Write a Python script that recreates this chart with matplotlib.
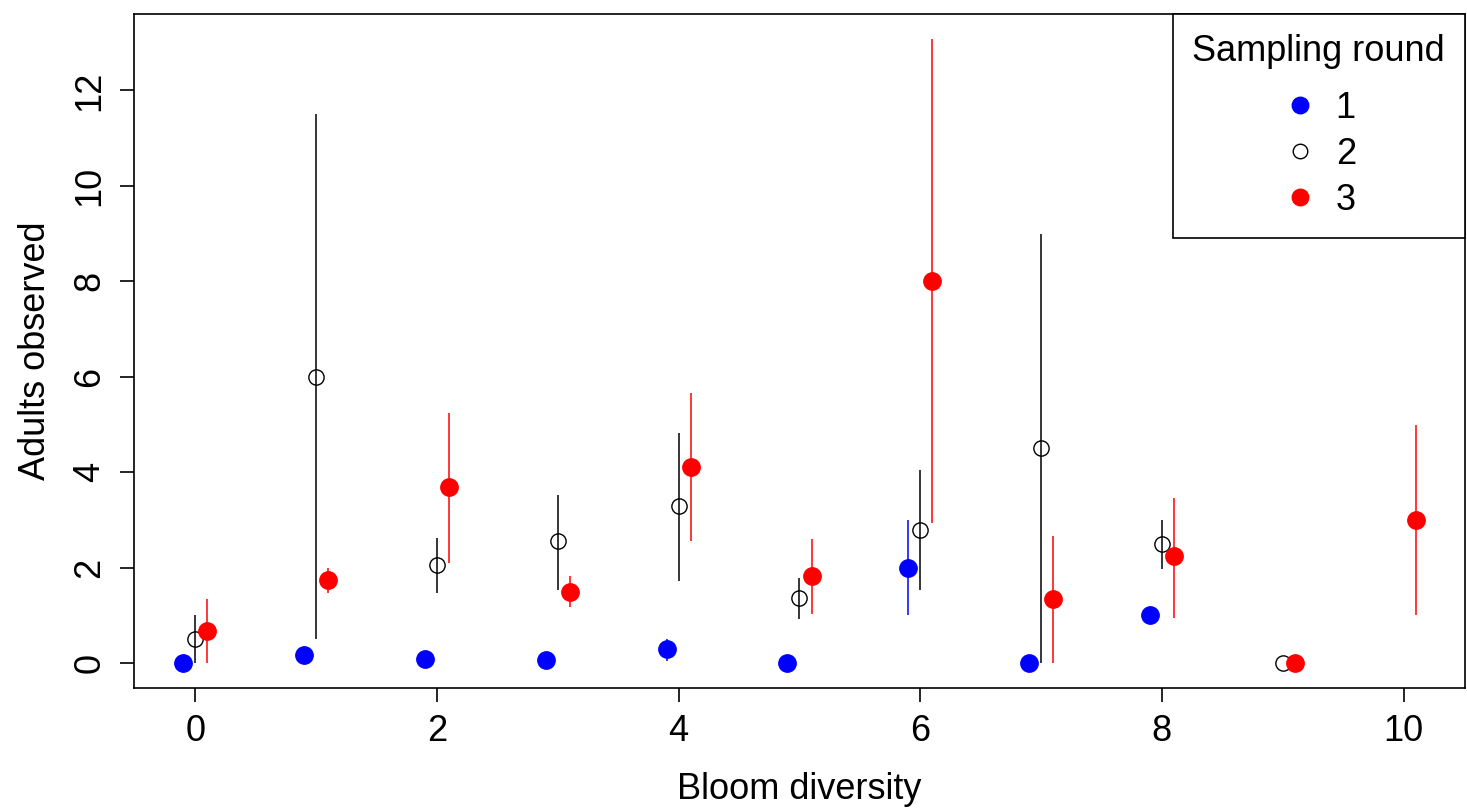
import matplotlib
matplotlib.use("Agg")
import matplotlib.pyplot as plt
import numpy as np

plt.rcParams['font.family'] = ['Liberation Sans', 'DejaVu Sans']

# bloom diversity levels and means/intervals per sampling round
diversity = [0, 1, 2, 3, 4, 5, 6, 7, 8, 9, 10]

r1_x = [0, 1, 2, 3, 4, 5, 6, 7, 8]
r1_mean = [0.0, 0.17, 0.08, 0.07, 0.3, 0.0, 2.0, 0.0, 1.0]
r1_lo = [0.0, 0.17, 0.08, 0.07, 0.05, 0.0, 1.0, 0.0, 1.0]
r1_hi = [0.0, 0.17, 0.08, 0.07, 0.5, 0.0, 3.0, 0.0, 1.0]

r2_x = [0, 1, 2, 3, 4, 5, 6, 7, 8, 9]
r2_mean = [0.5, 6.0, 2.05, 2.55, 3.3, 1.37, 2.8, 4.5, 2.5, 0.0]
r2_lo = [0.0, 0.5, 1.47, 1.53, 1.72, 0.93, 1.53, 0.0, 1.97, 0.0]
r2_hi = [1.0, 11.5, 2.62, 3.53, 4.83, 1.79, 4.05, 9.0, 3.0, 0.0]

r3_x = [0, 1, 2, 3, 4, 5, 6, 7, 8, 9, 10]
r3_mean = [0.67, 1.75, 3.7, 1.5, 4.1, 1.83, 8.0, 1.35, 2.25, 0.0, 3.0]
r3_lo = [0.0, 1.47, 2.1, 1.18, 2.56, 1.03, 2.94, 0.0, 0.95, 0.0, 1.0]
r3_hi = [1.34, 2.0, 5.25, 1.83, 5.67, 2.6, 13.07, 2.67, 3.47, 0.0, 5.0]

rounds = [
    ("1", r1_x, r1_mean, r1_lo, r1_hi, -0.1, "#0000ff", True),
    ("2", r2_x, r2_mean, r2_lo, r2_hi, 0.0, "black", False),
    ("3", r3_x, r3_mean, r3_lo, r3_hi, 0.1, "#ff0000", True),
]

fs = 26

fig = plt.figure(figsize=(14.67, 8.1), dpi=100)
ax = fig.add_axes([0.0913, 0.1506, 0.9073, 0.8321])

handles = []
for name, xs, m, lo, hi, off, col, filled in rounds:
    xp = np.array(xs) + off
    ax.vlines(xp, lo, hi, colors=col, lw=1.1, zorder=2)
    if filled:
        h, = ax.plot(xp, m, 'o', ms=12.5, color=col, mec=col, zorder=3,
                     linestyle='none', label=name)
    else:
        h, = ax.plot(xp, m, 'o', ms=11, mfc='none', mec=col, mew=1.0,
                     zorder=3, linestyle='none', label=name)
    handles.append(h)

ax.set_xlim(-0.508, 10.508)
ax.set_ylim(-0.52, 13.6)
ax.set_xticks([0, 2, 4, 6, 8, 10])
ax.set_yticks([0, 2, 4, 6, 8, 10, 12])
ax.tick_params(direction='out', length=10, width=1.2, labelsize=fs, pad=9)
for lab in ax.get_yticklabels():
    lab.set_rotation(90)
    lab.set_va('center')
for s in ax.spines.values():
    s.set_linewidth(1.2)

ax.set_xlabel("Bloom diversity", fontsize=fs, labelpad=16)
ax.set_ylabel("Adults observed", fontsize=fs, labelpad=14)

leg = ax.legend(handles=handles, title="Sampling round", loc='upper right',
                fontsize=fs, title_fontsize=fs, frameon=True, fancybox=False,
                borderaxespad=0, handletextpad=0.5, labelspacing=0.3,
                borderpad=0.55, markerscale=0.95, handlelength=1.0)
leg.get_frame().set_edgecolor('black')
leg.get_frame().set_linewidth(1.2)
leg.get_frame().set_alpha(1)
leg._legend_box.align = "center"
leg._legend_box.sep = 16  # extra room between title and entries

fig.savefig("out.png", dpi=100)
